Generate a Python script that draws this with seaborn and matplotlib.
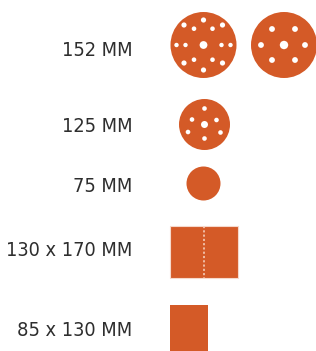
import numpy as np
import pandas as pd
import matplotlib
matplotlib.use("Agg")
import matplotlib.pyplot as plt
from matplotlib.patches import Circle, Rectangle
import seaborn as sns

# sizes shown, top to bottom
labels = ["152 MM", "125 MM", "75 MM", "130 x 170 MM", "85 x 130 MM"]

# hole patterns (offset from disc centre, px, and hole radius)
holes_15_dx = [0, 0, -19.5, -9.5, 9, 19, -27, -18, 18, 27, -19.5, -9.5, 9, 19, 0]
holes_15_dy = [0, -25, -20, -16.3, -16.3, -20, 0, 0, 0, 0, 18, 14.7, 14.7, 18, 25]
holes_15_r = [3.9, 2.6, 2.6, 2.3, 2.3, 2.6, 2.2, 2.2, 2.2, 2.2, 2.6, 2.3, 2.3, 2.6, 2.6]

holes_7_dx = [0, -12, 11, -23, 21, -12, 11]
holes_7_dy = [0, -16, -16, 0, 0, 15, 15]
holes_7_r = [4.2, 2.9, 2.9, 2.9, 2.9, 2.9, 2.9]

holes_6_dx = [0, 0, -12.5, 12, -16.5, 16, 0]
holes_6_dy = [0, -16, -5, -4.5, 7.5, 8, 14]
holes_6_r = [3.5, 2.3, 2.3, 2.3, 2.3, 2.3, 2.3]

orange = "#D45A27"
text_col = "#2e2e2e"

sns.set_style("white")
plt.rcParams["font.family"] = ["DejaVu Sans"]

fig = plt.figure(figsize=(3.16, 3.51), dpi=100)
ax = fig.add_axes([0, 0, 1, 1])
ax.set_xlim(0, 316)
ax.set_ylim(351, 0)
ax.set_aspect("equal")
ax.axis("off")

# layout (px)
label_x = 132.5
label_y = [51, 126, 186, 251, 331]
disc_centres = [(203.5, 45), (284, 45)]
disc_r = 33
disc125 = (204.5, 124.5, 25.5)
disc75 = (203.5, 183.5, 17)
sheet1 = (170, 226, 68, 52)
sheet2 = (170, 305, 38, 46)

for lab, y in zip(labels, label_y):
    ax.text(label_x, y, lab, ha="right", va="center", fontsize=14.3,
            color=text_col, fontstretch="condensed")

ax.add_patch(Circle(disc_centres[0], disc_r, color=orange, lw=0))
ax.add_patch(Circle(disc_centres[1], disc_r, color=orange, lw=0))
ax.add_patch(Circle(disc125[:2], disc125[2], color=orange, lw=0))
ax.add_patch(Circle(disc75[:2], disc75[2], color=orange, lw=0))

rows = []
for dx, dy, r in zip(holes_15_dx, holes_15_dy, holes_15_r):
    rows.append((disc_centres[0][0] + dx, disc_centres[0][1] + dy, r))
for dx, dy, r in zip(holes_7_dx, holes_7_dy, holes_7_r):
    rows.append((disc_centres[1][0] + dx, disc_centres[1][1] + dy, r))
for dx, dy, r in zip(holes_6_dx, holes_6_dy, holes_6_r):
    rows.append((disc125[0] + dx, disc125[1] + dy, r))
holes = pd.DataFrame(rows, columns=["x", "y", "r"])
# radius px -> marker area in pt^2 (1 px = 0.72 pt at 100 dpi)
holes["s"] = (2 * holes["r"] * 0.72) ** 2
sns.scatterplot(data=holes, x="x", y="y", s=holes["s"].values, color="white",
                linewidth=0, ax=ax, legend=False, zorder=3)

# sheets
x0, y0, w, h = sheet1
ax.add_patch(Rectangle((x0, y0), w, h, facecolor=orange, edgecolor="#f6d9cc", lw=0.8))
ax.plot([x0 + w / 2, x0 + w / 2], [y0, y0 + h], color="#f7d6c6", lw=1.1,
        linestyle=(0, (1.4, 1.4)), zorder=3)
x0, y0, w, h = sheet2
ax.add_patch(Rectangle((x0, y0), w, h, facecolor=orange, lw=0))

ax.set_xlim(0, 316)
ax.set_ylim(351, 0)
fig.savefig("out.png", dpi=100, facecolor="white")
